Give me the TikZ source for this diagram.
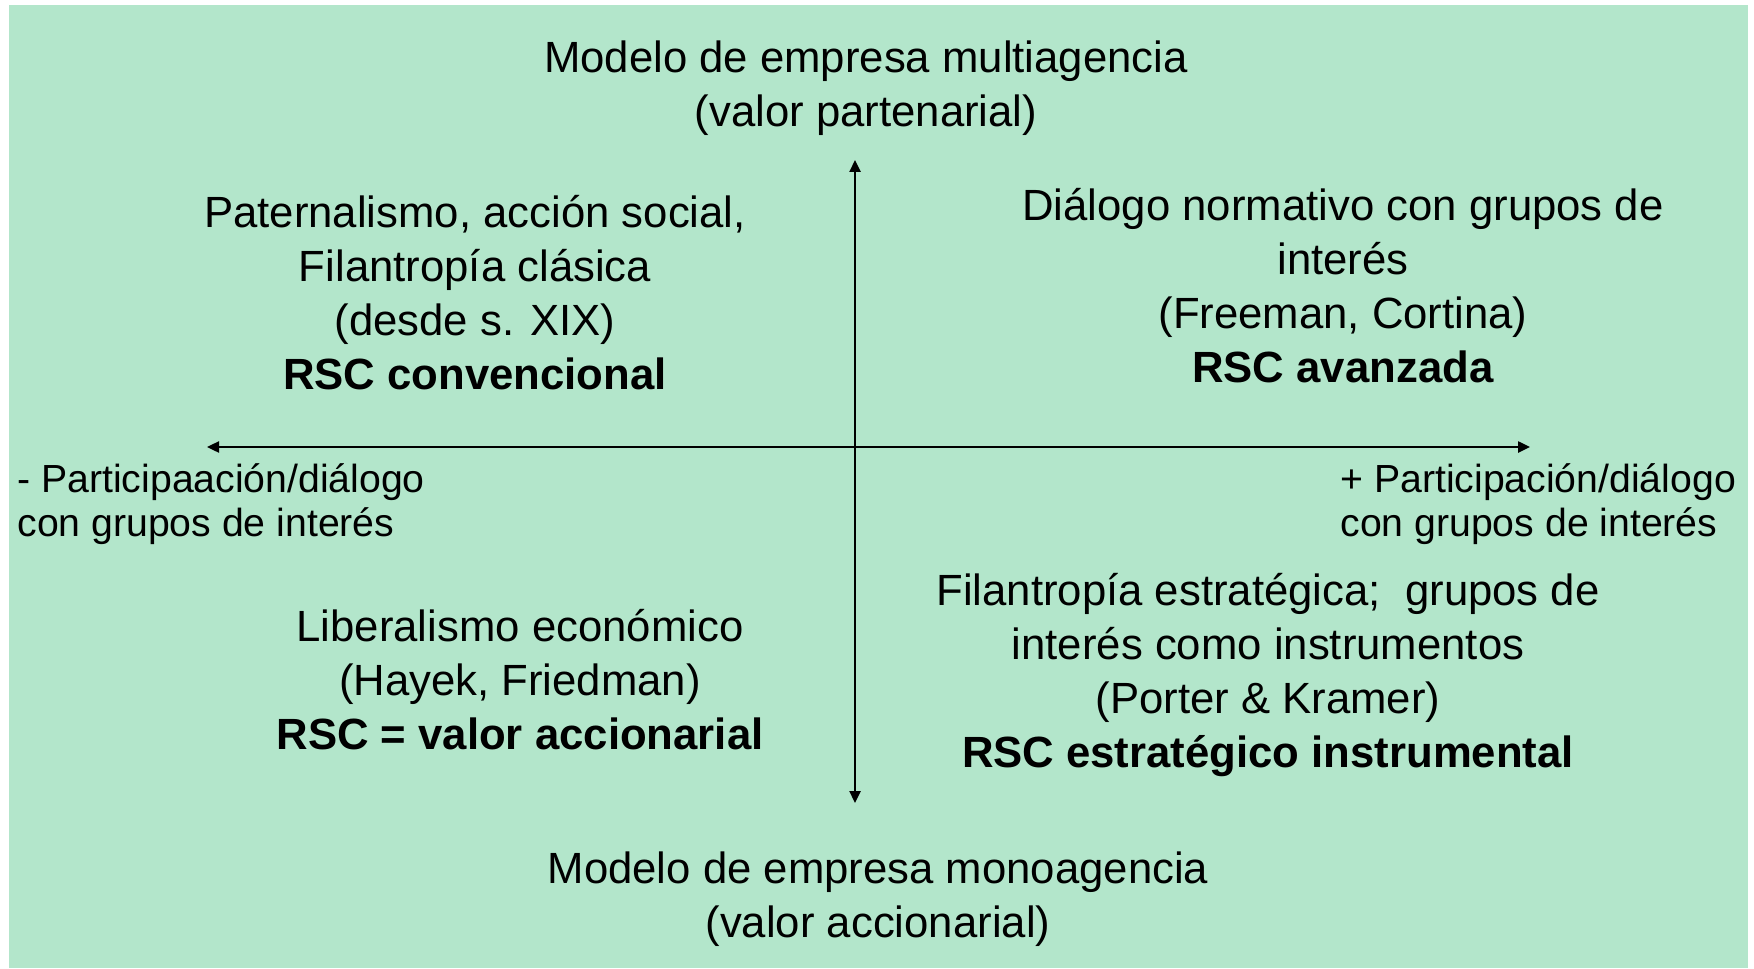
\documentclass[tikz,border=0pt]{standalone}
\usepackage{fontspec}
\setmainfont{Liberation Sans}
\usetikzlibrary{arrows.meta}
\definecolor{bggreen}{RGB}{179,230,203}
\tikzset{
  block/.style={align=center, inner sep=0pt, font=\fontsize{21.85pt}{27pt}\selectfont},
  side/.style={align=left, inner sep=0pt, font=\fontsize{19.6pt}{21.8pt}\selectfont},
  axis/.style={line width=1.2pt, {Triangle[length=6pt,width=5.5pt]}-{Triangle[length=6pt,width=5.5pt]}}
}
\begin{document}
\begin{tikzpicture}[x=0.5pt,y=-0.5pt]
\useasboundingbox (0,0) rectangle (1754,968);
\fill[bggreen] (9,5) rectangle (1748,968);
\coordinate (vt) at (855,160);
\coordinate (vb) at (855,803);
\coordinate (hl) at (207,447);
\coordinate (hr) at (1530,447);
\draw[axis] (vb) -- (vt);
\draw[axis] (hl) -- (hr);
\node[block] (top) at (866,88) {Modelo de empresa multiagencia\\(valor partenarial)};
\node[block] (bot) at (878,899) {Modelo de empresa monoagencia\\(valor accionarial)};
\node[block] (tl) at (475,293) {Paternalismo, acción social,\\Filantropía clásica\\(desde s. XIX)\\\textbf{RSC convencional}};
\node[block] (tr) at (1343,286) {Diálogo normativo con grupos de\\interés\\(Freeman, Cortina)\\\textbf{RSC avanzada}};
\node[block] (bl) at (520,680) {Liberalismo económico\\(Hayek, Friedman)\\\textbf{RSC = valor accionarial}};
\node[block] (br) at (1268,675) {Filantropía estratégica;\ \ grupos de\\interés como instrumentos\\(Porter \& Kramer)\\\textbf{RSC estratégico instrumental}};
\node[side, anchor=west] (ll) at (17,504) {- Participaación/diálogo\\con grupos de interés};
\node[side, anchor=west] (rl) at (1340,504) {+ Participación/diálogo\\con grupos de interés};
\end{tikzpicture}
\end{document}
